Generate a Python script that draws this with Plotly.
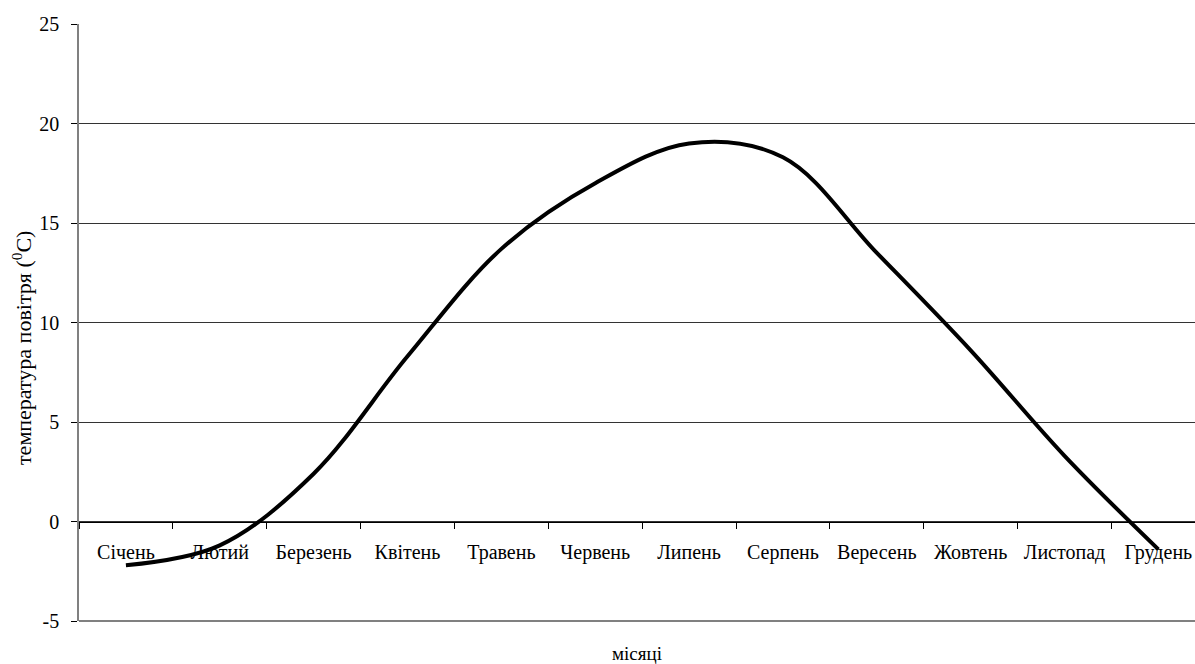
import plotly.graph_objects as go

months = ["Січень", "Лютий", "Березень", "Квітень", "Травень", "Червень",
          "Липень", "Серпень", "Вересень", "Жовтень", "Листопад", "Грудень"]
temperature = [-2.2, -1.2, 2.4, 8.3, 13.7, 17.0, 19.0, 18.3, 13.5, 8.6, 3.3, -1.4]

y_ticks = [-5, 0, 5, 10, 15, 20, 25]
y_tick_text = ["-5", "0", "5", "10", "15", "20", "25"]

FONT = "Liberation Serif"

fig = go.Figure()
fig.add_trace(go.Scatter(
    x=months, y=temperature, mode="lines",
    line=dict(color="black", width=4, shape="spline", smoothing=1.0),
    showlegend=False, hoverinfo="x+y",
))

fig.update_layout(
    width=1195, height=664,
    margin=dict(l=79, r=0, t=24, b=43),
    paper_bgcolor="white", plot_bgcolor="white",
    font=dict(family=FONT, size=20, color="black"),
    xaxis=dict(
        type="category", range=[-0.5, 11.39], automargin=False,
        anchor="free", position=(0 - y_ticks[0]) / (y_ticks[-1] - y_ticks[0]),
        showline=True, linecolor="black", linewidth=1,
        ticks="outside", tickson="boundaries", ticklen=6, tickcolor="black",
        ticklabelstandoff=12,
        showgrid=False, zeroline=False,
        tickfont=dict(family=FONT, size=20),
    ),
    yaxis=dict(
        range=[y_ticks[0], y_ticks[-1]], tickvals=y_ticks, ticktext=y_tick_text,
        automargin=False,
        showline=True, linecolor="#808080", linewidth=1.5,
        ticks="outside", ticklen=6, tickcolor="black",
        ticklabelstandoff=8,
        showgrid=True, gridcolor="#333333", gridwidth=1,
        zeroline=False,
        tickfont=dict(family=FONT, size=20),
    ),
    shapes=[dict(type="line", xref="paper", yref="paper", x0=0, x1=1, y0=0, y1=0,
                 line=dict(color="#808080", width=2))],
    annotations=[
        dict(text="місяці", xref="x", yref="paper", x=5.45, y=0,
             yanchor="top", yshift=-20, showarrow=False,
             font=dict(family=FONT, size=19)),
        dict(text="температура повітря (<sup>0</sup>C)", xref="paper", yref="paper",
             x=0, y=(621 - 348) / 597, xanchor="center", yanchor="middle",
             xshift=-57, textangle=-90, showarrow=False,
             font=dict(family=FONT, size=22)),
    ],
)

fig.write_html(
    "out.html",
    config={"displayModeBar": False},
    post_script="document.body.style.margin='0px';document.body.style.overflow='hidden';",
)
